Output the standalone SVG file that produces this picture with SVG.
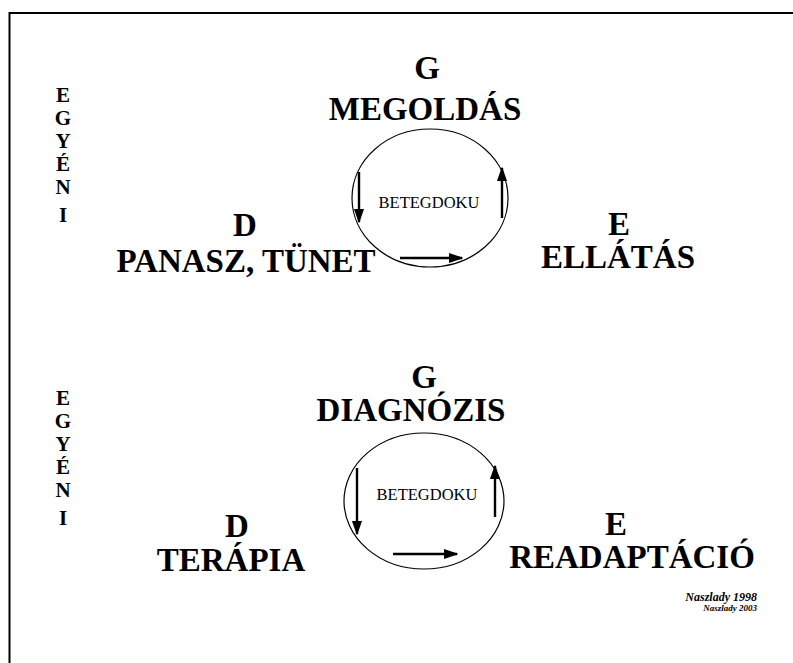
<svg xmlns="http://www.w3.org/2000/svg" width="793" height="663" viewBox="0 0 793 663">
  <style>
    .big { font-family: "Liberation Serif", "Times New Roman", serif; font-weight: bold; font-size: 33px; fill: #000; text-anchor: middle; }
    .col { font-family: "Liberation Serif", "Times New Roman", serif; font-weight: bold; font-size: 21px; fill: #000; text-anchor: middle; }
    .mid { font-family: "Liberation Serif", "Times New Roman", serif; font-size: 16.5px; fill: #000; text-anchor: middle; }
    .ring { fill: none; stroke: #000; stroke-width: 1.2; }
    .arr { fill: none; stroke: #000; stroke-width: 2.4; marker-end: url(#head); }
    .sig { font-family: "Liberation Serif", "Times New Roman", serif; font-style: italic; font-weight: bold; fill: #000; text-anchor: end; }
  </style>
  <defs>
    <marker id="head" viewBox="0 0 10 10" refX="9" refY="5" markerWidth="6" markerHeight="6" orient="auto" markerUnits="strokeWidth">
      <path d="M0,1.5 L10,5 L0,8.5 z" fill="#000"/>
    </marker>
  </defs>
  <rect width="793" height="663" fill="#fff"/>
  <!-- page frame -->
  <path d="M9.5,663 V13 H793" fill="none" stroke="#000" stroke-width="2"/>

  <!-- upper cycle -->
  <g id="col-top">
    <text class="col" x="63" y="102">E</text>
    <text class="col" x="63" y="125">G</text>
    <text class="col" x="63" y="148">Y</text>
    <text class="col" x="63" y="171">É</text>
    <text class="col" x="63" y="194">N</text>
    <text class="col" x="63" y="222">I</text>
  </g>
  <g id="node-g-top">
    <text class="big" x="427" y="79">G</text>
    <text class="big" x="425" y="120">MEGOLDÁS</text>
  </g>
  <g id="node-d-top">
    <text class="big" x="245" y="236">D</text>
    <text class="big" x="246" y="272">PANASZ, TÜNET</text>
  </g>
  <g id="node-e-top">
    <text class="big" x="619" y="235">E</text>
    <text class="big" x="618" y="268">ELLÁTÁS</text>
  </g>
  <g id="node-center-top">
    <ellipse class="ring" cx="430" cy="198" rx="78" ry="69"/>
    <text class="mid" x="429" y="208">BETEGDOKU</text>
  </g>

  <!-- lower cycle -->
  <g id="col-bottom">
    <text class="col" x="63" y="405">E</text>
    <text class="col" x="63" y="428">G</text>
    <text class="col" x="63" y="451">Y</text>
    <text class="col" x="63" y="474">É</text>
    <text class="col" x="63" y="497">N</text>
    <text class="col" x="63" y="525">I</text>
  </g>
  <g id="node-g-bottom">
    <text class="big" x="424" y="388">G</text>
    <text class="big" x="411" y="421">DIAGNÓZIS</text>
  </g>
  <g id="node-d-bottom">
    <text class="big" x="237" y="537">D</text>
    <text class="big" x="231" y="571">TERÁPIA</text>
  </g>
  <g id="node-e-bottom">
    <text class="big" x="616" y="535">E</text>
    <text class="big" x="632" y="568">READAPTÁCIÓ</text>
  </g>
  <g id="node-center-bottom">
    <ellipse class="ring" cx="424" cy="501" rx="80" ry="68"/>
    <text class="mid" x="427" y="500">BETEGDOKU</text>
  </g>

  <!-- cycle arrows -->
  <g id="connectors">
    <line class="arr" x1="359" y1="172" x2="359" y2="222"/>
    <line class="arr" x1="400" y1="258" x2="462" y2="258"/>
    <line class="arr" x1="502" y1="218" x2="502" y2="168"/>
    <line class="arr" x1="357" y1="468" x2="357" y2="534"/>
    <line class="arr" x1="393" y1="554" x2="457" y2="554"/>
    <line class="arr" x1="495" y1="517" x2="495" y2="466"/>
  </g>

  <g id="signature">
    <text class="sig" x="757" y="601" font-size="12">Naszlady 1998</text>
    <text class="sig" x="757" y="611" font-size="9">Naszlady 2003</text>
  </g>
</svg>
